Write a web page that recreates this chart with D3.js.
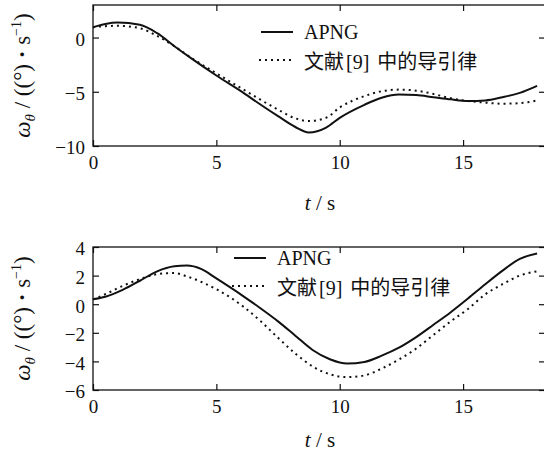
<!DOCTYPE html>
<html>
<head>
<meta charset="utf-8">
<script src="https://cdn.jsdelivr.net/npm/d3@7.9.0/dist/d3.min.js"></script>
<style>
  body { margin: 0; background: #fff; }
  svg { display: block; }
  .tick text { font-family: 'Liberation Serif', 'DejaVu Serif', serif; font-size: 19px; fill: #111; }
  .tick line { stroke: #111; stroke-width: 1.2; }
</style>
</head>
<body>
<svg id="chart" width="544" height="454"></svg>
<script>
// upper panel: time (s) and angular rate (deg/s)
const tTop = [0, 0.5, 1.0, 1.9, 2.6, 3.3, 4.0, 5.0, 6.1, 6.8, 7.5, 8.2, 8.75, 9.45, 10.0, 11.0, 11.7, 12.4, 13.1, 13.8, 14.5, 15.2, 15.9, 16.6, 17.3, 18.0];
const apngTop = [0.95, 1.25, 1.38, 1.17, 0.4, -0.8, -1.95, -3.5, -5.1, -6.2, -7.25, -8.25, -8.75, -8.3, -7.4, -6.2, -5.55, -5.25, -5.3, -5.5, -5.7, -5.85, -5.8, -5.5, -5.1, -4.45];
const refTop = [0.95, 1.05, 1.08, 0.86, 0.15, -0.8, -1.9, -3.3, -4.8, -5.75, -6.65, -7.45, -7.7, -7.4, -6.45, -5.4, -4.95, -4.8, -4.9, -5.2, -5.6, -5.85, -6.0, -6.1, -6.05, -5.8];

// lower panel
const tBottom = [0, 0.5, 1.2, 1.9, 2.6, 3.3, 3.8, 4.4, 5.0, 6.1, 6.8, 7.5, 8.2, 8.9, 9.6, 10.3, 11.0, 11.7, 12.4, 13.1, 13.8, 14.5, 15.2, 15.9, 16.6, 17.3, 18.0];
const apngBottom = [0.34, 0.52, 1.0, 1.64, 2.3, 2.65, 2.7, 2.45, 1.8, 0.55, -0.3, -1.2, -2.2, -3.2, -3.85, -4.15, -4.04, -3.6, -3.04, -2.3, -1.44, -0.56, 0.4, 1.4, 2.35, 3.17, 3.55];
const refBottom = [0.34, 0.7, 1.28, 1.75, 2.1, 2.18, 1.95, 1.55, 1.05, -0.18, -1.2, -2.35, -3.45, -4.35, -4.9, -5.1, -4.98, -4.5, -3.87, -3.1, -2.15, -1.2, -0.33, 0.69, 1.4, 2.0, 2.3];

const xTicks = [0, 5, 10, 15];
const yTicksTop = [-10, -5, 0];
const yTicksBottom = [-6, -4, -2, 0, 2, 4];
const legendLabels = ['APNG', '文献[9]中的导引律'];

const serif = "'Liberation Serif', 'DejaVu Serif', serif";
const cjk = "'Noto Sans CJK SC', sans-serif";
const ink = '#111';
const dotted = '2,4';

const svg = d3.select('#chart');

function drawPanel(p) {
  const x = d3.scaleLinear().domain([0, 18.32]).range([93, 545]);
  const y = d3.scaleLinear().domain(p.yDomain).range([p.bottom, p.top]);
  const g = svg.append('g');

  // ticks on all four sides, pointing inward
  g.append('g').attr('transform', `translate(0,${p.bottom})`)
    .call(d3.axisBottom(x).tickValues(xTicks).tickSizeInner(-6).tickSizeOuter(0).tickPadding(10))
    .call(a => a.select('.domain').remove());
  g.append('g').attr('transform', `translate(0,${p.top})`)
    .call(d3.axisTop(x).tickValues(xTicks).tickSizeInner(-6).tickSizeOuter(0).tickFormat(''))
    .call(a => a.select('.domain').remove());
  g.append('g').attr('transform', 'translate(93,0)')
    .call(d3.axisLeft(y).tickValues(p.yTicks).tickSizeInner(-6).tickSizeOuter(0).tickPadding(8))
    .call(a => a.select('.domain').remove())
    .call(a => a.selectAll('text').attr('dy', '0.42em'));
  g.append('g').attr('transform', 'translate(545,0)')
    .call(d3.axisRight(y).tickValues(p.yTicks).tickSizeInner(-6).tickSizeOuter(0).tickFormat(''))
    .call(a => a.select('.domain').remove());
  g.selectAll('.tick text').attr('font-family', serif);

  g.append('rect')
    .attr('x', 93).attr('y', p.top)
    .attr('width', 452).attr('height', p.bottom - p.top)
    .attr('fill', 'none').attr('stroke', ink).attr('stroke-width', 1.3);

  const line = d3.line().x(d => x(d[0])).y(d => y(d[1])).curve(d3.curveMonotoneX);

  g.append('path')
    .datum(p.t.map((t, i) => [t, p.ref[i]]))
    .attr('d', line).attr('fill', 'none')
    .attr('stroke', ink).attr('stroke-width', 2)
    .attr('stroke-dasharray', dotted);

  g.append('path')
    .datum(p.t.map((t, i) => [t, p.apng[i]]))
    .attr('d', line).attr('fill', 'none')
    .attr('stroke', ink).attr('stroke-width', 2);

  // legend
  const L = p.legend;
  g.append('line').attr('x1', L.x).attr('x2', L.x + 32)
    .attr('y1', L.y).attr('y2', L.y)
    .attr('stroke', ink).attr('stroke-width', 2);
  g.append('text').attr('x', L.x + 43).attr('y', L.y + 7)
    .attr('font-family', serif).attr('font-size', 20).attr('fill', ink)
    .text(legendLabels[0]);

  g.append('line').attr('x1', L.x - 2).attr('x2', L.x + 32)
    .attr('y1', L.y + 28).attr('y2', L.y + 28)
    .attr('stroke', ink).attr('stroke-width', 2)
    .attr('stroke-dasharray', dotted);
  const lt = g.append('text').attr('x', L.x + 43).attr('y', L.y + 37)
    .attr('font-size', 20).attr('fill', ink);
  legendLabels[1].split(/(\[\d+\])/).forEach((part, i) => {
    const ts = lt.append('tspan').text(part);
    if (i === 1) ts.attr('font-family', serif).attr('dx', 2);
    else ts.attr('font-family', cjk);
    if (i === 2) ts.attr('dx', 8);
  });

  // x axis title
  const xt = g.append('text').attr('x', 320).attr('y', p.xTitleY)
    .attr('text-anchor', 'middle').attr('font-family', serif)
    .attr('font-size', 21).attr('fill', ink);
  xt.append('tspan').attr('font-style', 'italic').text('t');
  xt.append('tspan').text(' / s');

  // y axis title
  const cy = (p.top + p.bottom) / 2;
  const yt = g.append('text')
    .attr('transform', `translate(30,${cy}) rotate(-90)`)
    .attr('text-anchor', 'middle').attr('font-family', serif)
    .attr('font-size', 23).attr('fill', ink);
  yt.append('tspan').attr('font-style', 'italic').text('ω');
  yt.append('tspan').attr('font-style', 'italic').attr('font-size', 15).attr('dy', 5).text('θ');
  yt.append('tspan').attr('dy', -5).text(' / ((°) ');
  yt.append('tspan').attr('font-weight', 'bold').text('·');
  yt.append('tspan').text(' s');
  yt.append('tspan').attr('font-size', 14).attr('dy', -9).text('−1');
  yt.append('tspan').attr('dy', 9).text(')');
}

drawPanel({
  top: 5, bottom: 146, yDomain: [-10, 3], yTicks: yTicksTop,
  t: tTop, apng: apngTop, ref: refTop,
  legend: { x: 261, y: 32 }, xTitleY: 210
});

drawPanel({
  top: 247, bottom: 390, yDomain: [-6, 4], yTicks: yTicksBottom,
  t: tBottom, apng: apngBottom, ref: refBottom,
  legend: { x: 234, y: 258 }, xTitleY: 447
});
</script>
</body>
</html>
